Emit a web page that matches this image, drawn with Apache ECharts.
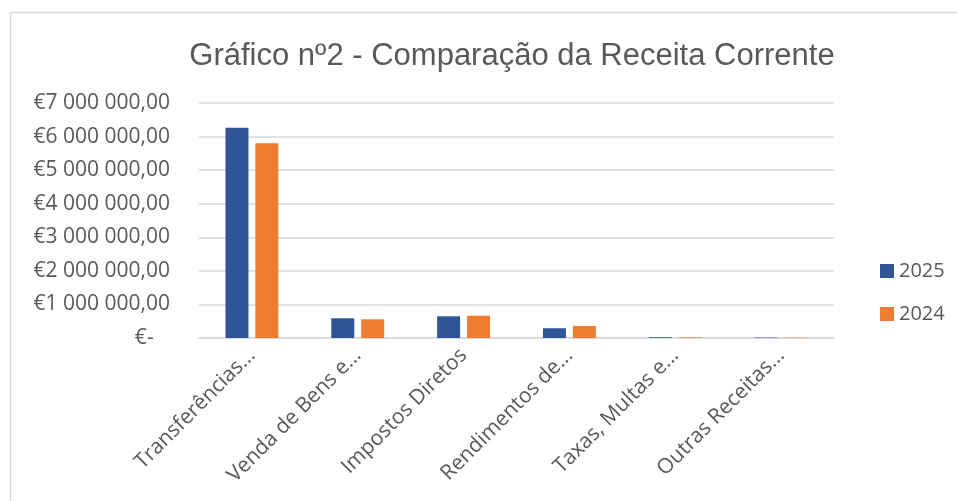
<!DOCTYPE html>
<html>
<head>
<meta charset="utf-8">
<script src="https://cdn.jsdelivr.net/npm/echarts@6/dist/echarts.min.js"></script>
<style>
    html, body { margin: 0; padding: 0; background: #fff; }
    #main { width: 957px; height: 501px; }
</style>
</head>
<body>
<div id="main"></div>
<script>
var categories = ['Transferências...', 'Venda de Bens e...', 'Impostos Diretos', 'Rendimentos de...', 'Taxas, Multas e...', 'Outras Receitas...'];
var values2025 = [6260000, 587000, 646000, 290000, 22000, 12000];
var values2024 = [5800000, 556000, 664000, 360000, 16000, 10000];
var seriesNames = ['2025', '2024'];

function euro(v) {
    if (v === 0) return '€-   ';
    var s = String(Math.round(v)).replace(/\B(?=(\d{3})+(?!\d))/g, ' ');
    return '€' + s + ',00';
}

~function () {
    var myChart = echarts.init(document.getElementById('main'));
    var option = {
        animation: false,
        textStyle: { fontFamily: 'Open Sans' },
        graphic: [
            {
                type: 'rect',
                shape: { x: 10.5, y: 12.5, width: 1000, height: 600 },
                style: { fill: 'none', stroke: '#d9d9d9', lineWidth: 1.5 },
                silent: true
            }
        ],
        title: {
            text: 'Gráfico nº2 - Comparação da Receita Corrente',
            left: 507,
            textAlign: 'center',
            top: 36,
            textStyle: {
                fontFamily: 'Liberation Sans',
                fontWeight: 'normal',
                fontSize: 31,
                color: '#595959'
            }
        },
        legend: {
            data: seriesNames,
            orient: 'vertical',
            left: 875,
            top: 256,
            itemWidth: 14,
            itemHeight: 14,
            itemGap: 23,
            icon: 'rect',
            textStyle: { fontSize: 20, color: '#595959', fontFamily: 'Open Sans' }
        },
        grid: {
            left: 199,
            right: 123,
            top: 103,
            bottom: 163,
            containLabel: false
        },
        xAxis: [
            {
                type: 'category',
                data: categories,
                axisTick: { show: false },
                axisLine: { lineStyle: { color: '#d9d9d9', width: 1.5 } },
                axisLabel: {
                    interval: 0,
                    rotate: 45,
                    margin: 14,
                    fontSize: 21,
                    color: '#595959'
                }
            }
        ],
        yAxis: [
            {
                type: 'value',
                min: 0,
                max: 7000000,
                interval: 1000000,
                axisLine: { show: false },
                axisTick: { show: false },
                splitLine: { lineStyle: { color: '#d9d9d9', width: 1.5 } },
                axisLabel: {
                    formatter: euro,
                    margin: 29,
                    fontSize: 21,
                    color: '#595959'
                }
            }
        ],
        series: [
            {
                name: seriesNames[0],
                type: 'bar',
                data: values2025,
                barWidth: 23,
                barGap: '30%',
                itemStyle: { color: '#2f5597' }
            },
            {
                name: seriesNames[1],
                type: 'bar',
                data: values2024,
                barWidth: 23,
                itemStyle: { color: '#ed7d31' }
            }
        ]
    };
    myChart.setOption(option);
}();
</script>
</body>
</html>
